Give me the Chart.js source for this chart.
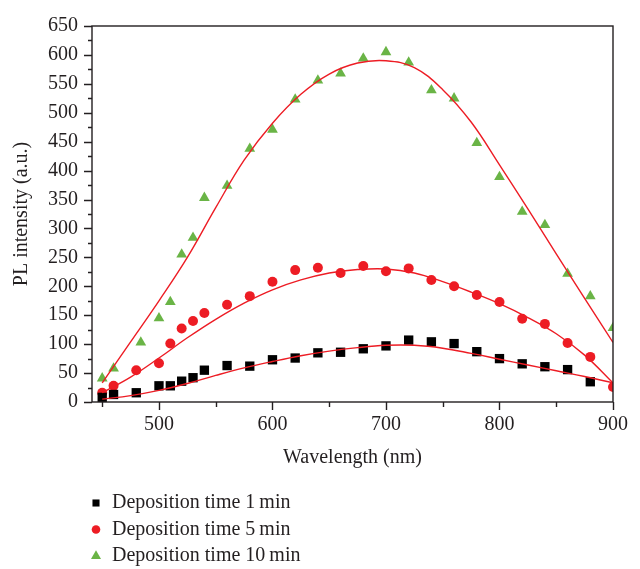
<!DOCTYPE html>
<html>
<head>
<meta charset="utf-8">
<script src="https://cdn.jsdelivr.net/npm/chart.js@4.4.1/dist/chart.umd.min.js"></script>
<style>
  html, body { margin: 0; padding: 0; background: #fff; }
  #wrap { position: relative; width: 640px; height: 569px; }
</style>
</head>
<body>
<div id="wrap"><canvas id="plChart"></canvas></div>
<script>
// measured PL points, one pair of arrays per deposition time
const wavelength1 = [450, 460, 480, 500, 510, 520, 530, 540, 560, 580, 600, 620, 640, 660, 680, 700, 720, 740, 760, 780, 800, 820, 840, 860, 880];
const intensity1 = [8, 13, 16, 28, 28, 36, 42, 55, 63, 62, 73, 76, 85, 86, 92, 97, 107, 104, 101, 87, 75, 66, 61, 56, 35];

const wavelength5 = [450, 460, 480, 500, 510, 520, 530, 540, 560, 580, 600, 620, 640, 660, 680, 700, 720, 740, 760, 780, 800, 820, 840, 860, 880, 900];
const intensity5 = [16, 28, 55, 67, 101, 127, 140, 154, 168, 183, 208, 228, 232, 223, 235, 226, 231, 211, 200, 185, 173, 144, 135, 102, 78, 26];

const wavelength10 = [450, 460, 484, 500, 510, 520, 530, 540, 560, 580, 600, 620, 640, 660, 680, 700, 720, 740, 760, 780, 800, 820, 840, 860, 880, 900];
const intensity10 = [41, 58, 103, 145, 173, 255, 284, 353, 374, 438, 471, 523, 556, 568, 594, 605, 587, 539, 525, 448, 389, 329, 306, 222, 183, 128];

// fitted curves
const fitWavelength = [450, 475, 500, 525, 550, 575, 600, 625, 650, 675, 700, 725, 750, 775, 800, 825, 850, 875, 900];
const fit1 = [5, 11, 20, 32, 46, 59, 70, 80, 88, 94, 98, 98, 93, 84, 74, 64, 54, 44, 33];
const fit5 = [16, 43, 76, 111, 143, 171, 194, 211, 223, 229, 230, 223, 208, 190, 170, 146, 118, 81, 33];
const fit10 = [33, 104, 175, 250, 336, 418, 482, 532, 567, 586, 590, 578, 540, 484, 410, 334, 256, 179, 103];

const legendLabels = ['Deposition time 1\u2009min', 'Deposition time 5\u2009min', 'Deposition time 10\u2009min'];

const xMajor = [500, 600, 700, 800, 900];
const xMinor = [450, 550, 650, 750, 850];
const yMajor = [0, 50, 100, 150, 200, 250, 300, 350, 400, 450, 500, 550, 600, 650];
const yMinor = [25, 75, 125, 175, 225, 275, 325, 375, 425, 475, 525, 575, 625];

const ink = '#231f20';
const red = '#ed1c24';
const green = '#6ab446';
const serif = 'Liberation Serif';

const toPoints = (xs, ys) => xs.map((x, i) => ({ x: x, y: ys[i] }));

// ticks, frame and the legend below the plot
const decorPlugin = {
  id: 'decor',
  afterDraw(chart) {
    const { ctx, chartArea } = chart;
    const xs = chart.scales.x;
    const ys = chart.scales.y;
    ctx.save();
    ctx.strokeStyle = ink;
    ctx.lineWidth = 1.4;
    ctx.strokeRect(chartArea.left, chartArea.top, chartArea.right - chartArea.left, chartArea.bottom - chartArea.top);

    ctx.beginPath();
    xMajor.forEach(v => {
      const px = Math.round(xs.getPixelForValue(v)) + 0.5;
      ctx.moveTo(px, chartArea.bottom);
      ctx.lineTo(px, chartArea.bottom + 8);
    });
    xMinor.forEach(v => {
      const px = Math.round(xs.getPixelForValue(v)) + 0.5;
      ctx.moveTo(px, chartArea.bottom);
      ctx.lineTo(px, chartArea.bottom + 5);
    });
    yMajor.forEach(v => {
      const py = Math.round(ys.getPixelForValue(v)) + 0.5;
      ctx.moveTo(chartArea.left, py);
      ctx.lineTo(chartArea.left - 8, py);
    });
    yMinor.forEach(v => {
      const py = Math.round(ys.getPixelForValue(v)) + 0.5;
      ctx.moveTo(chartArea.left, py);
      ctx.lineTo(chartArea.left - 4, py);
    });
    ctx.stroke();

    // legend
    const items = chart.data.datasets.filter(d => d.legendIndex !== undefined);
    items.forEach(d => {
      const y = 503 + d.legendIndex * 26.5;
      ctx.fillStyle = d.backgroundColor;
      Chart.helpers.drawPoint(ctx, {
        pointStyle: d.pointStyle,
        radius: d.legendRadius,
        rotation: 0,
        borderWidth: 0
      }, 96, y);
      ctx.fillStyle = ink;
      ctx.font = '20px "' + serif + '"';
      ctx.textAlign = 'left';
      ctx.textBaseline = 'middle';
      ctx.fillText(legendLabels[d.legendIndex], 112, y);
    });
    ctx.restore();
  }
};

const ctx = document.getElementById('plChart').getContext('2d');
new Chart(ctx, {
  type: 'scatter',
  data: {
    datasets: [
      { data: toPoints(fitWavelength, fit1), showLine: true, borderColor: red, borderWidth: 1.4, pointRadius: 0, tension: 0.4, clip: 0, order: 0 },
      { data: toPoints(fitWavelength, fit5), showLine: true, borderColor: red, borderWidth: 1.4, pointRadius: 0, tension: 0.4, clip: 0, order: 0 },
      { data: toPoints(fitWavelength, fit10), showLine: true, borderColor: red, borderWidth: 1.4, pointRadius: 0, tension: 0.4, clip: 0, order: 0 },
      { data: toPoints(wavelength1, intensity1), pointStyle: 'rect', pointRadius: 6.6, backgroundColor: '#000', borderWidth: 0, clip: 0, order: 1, legendIndex: 0, legendRadius: 5 },
      { data: toPoints(wavelength5, intensity5), pointStyle: 'circle', pointRadius: 5, backgroundColor: red, borderWidth: 0, clip: 0, order: 1, legendIndex: 1, legendRadius: 4.3 },
      { data: toPoints(wavelength10, intensity10), pointStyle: 'triangle', pointRadius: 6.2, backgroundColor: green, borderWidth: 0, clip: 0, order: 1, legendIndex: 2, legendRadius: 5.8 }
    ]
  },
  options: {
    responsive: true,
    maintainAspectRatio: false,
    animation: false,
    devicePixelRatio: 1,
    layout: { padding: { top: 14, right: 27, left: 0, bottom: 97 } },
    plugins: {
      legend: { display: false },
      tooltip: { enabled: false }
    },
    scales: {
      x: {
        type: 'linear',
        min: 441,
        max: 900,
        afterBuildTicks: scale => { scale.ticks = xMajor.map(v => ({ value: v })); },
        afterFit: scale => { scale.height = 70; },
        grid: { display: false, drawTicks: false },
        border: { display: false },
        ticks: { padding: 11, color: ink, font: { family: serif, size: 20 } },
        title: { display: true, text: 'Wavelength (nm)', color: ink, font: { family: serif, size: 20 }, padding: { top: 0, bottom: 2 } }
      },
      y: {
        type: 'linear',
        min: 0,
        max: 650,
        afterBuildTicks: scale => { scale.ticks = yMajor.map(v => ({ value: v })); },
        afterFit: scale => { scale.width = 92; },
        grid: { display: false, drawTicks: false },
        border: { display: false },
        ticks: { padding: 14, color: ink, font: { family: serif, size: 20 } },
        title: { display: true, text: 'PL intensity (a.u.)', color: ink, font: { family: serif, size: 20 }, padding: { top: 10, bottom: 0 } }
      }
    }
  },
  plugins: [decorPlugin]
});
</script>
</body>
</html>
